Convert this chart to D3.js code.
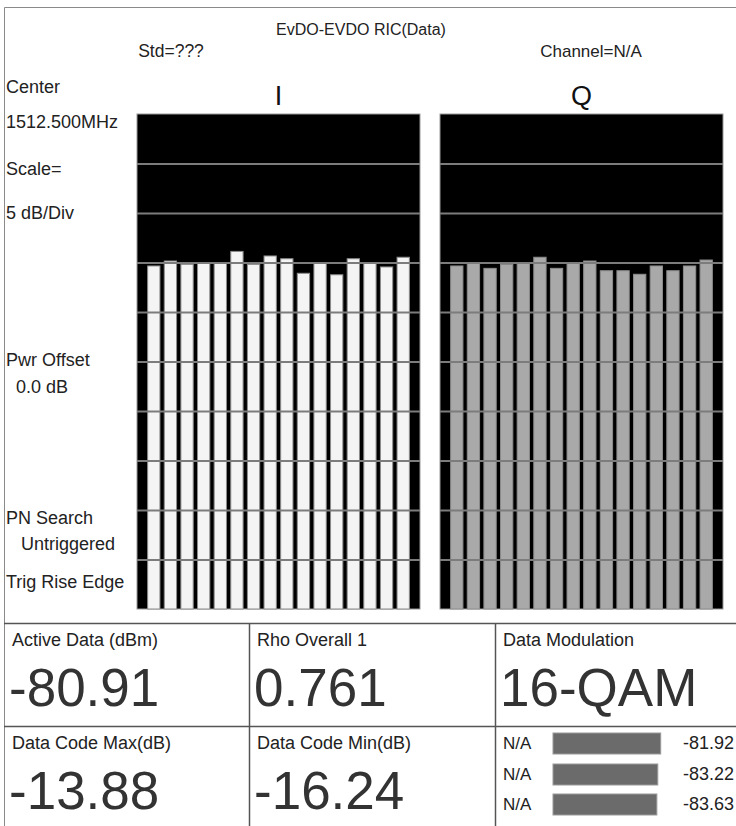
<!DOCTYPE html>
<html>
<head>
<meta charset="utf-8">
<script src="https://cdn.jsdelivr.net/npm/d3@7"></script>
<style>
  body { margin: 0; background: #fff; }
  svg { display: block; font-family: "Liberation Sans", Arial, sans-serif; }
</style>
</head>
<body>
<div id="chart"></div>
<script>
// Code channel powers (dB)
var codes = ["0","1","2","3","4","5","6","7","8","9","10","11","12","13","14","15"];
var iValues = [-15.35, -14.85, -15.18, -15.02, -15.02, -13.88, -15.18, -14.34,
               -14.62, -16.09, -15.02, -16.24, -14.62, -15.02, -15.45, -14.47];
var qValues = [-15.35, -15.02, -15.59, -15.18, -15.02, -14.47, -15.59, -15.02,
               -14.85, -15.83, -15.83, -16.19, -15.35, -15.83, -15.35, -14.75];
var gridTicks = [-45, -40, -35, -30, -25, -20, -15, -10, -5];

// Side labels and table cells
var sideLabels = ["Center", "1512.500MHz", "Scale=", "5 dB/Div", "Pwr Offset", "  0.0 dB",
                  "PN Search", "   Untriggered", "Trig Rise Edge"];
var cellTitles = ["Active Data (dBm)", "Rho Overall 1", "Data Modulation",
                  "Data Code Max(dB)", "Data Code Min(dB)"];
var cellValues = ["-80.91", "0.761", "16-QAM", "-13.88", "-16.24"];
var naNames  = ["N/A", "N/A", "N/A"];
var naValues = [-81.92, -83.22, -83.63];

var W = 736, H = 826;
var svg = d3.select("#chart").append("svg")
	.attr("width", W)
	.attr("height", H);

// outer frame
svg.append("path")
	.attr("d", "M4.5,826 V7.5 H736")
	.attr("fill", "none")
	.attr("stroke", "#8a8a8a");

// header
svg.append("text").attr("x", 361).attr("y", 35)
	.attr("text-anchor", "middle").style("font-size", "16px").attr("fill", "#222")
	.text("EvDO-EVDO RIC(Data)");
svg.append("text").attr("x", 171).attr("y", 57)
	.attr("text-anchor", "middle").style("font-size", "17.5px").attr("fill", "#222")
	.text("Std=???");
svg.append("text").attr("x", 591).attr("y", 57)
	.attr("text-anchor", "middle").style("font-size", "17px").attr("fill", "#222")
	.text("Channel=N/A");

// side labels
var sideY = [93, 128, 175, 219, 366, 393, 524, 550, 588];
svg.selectAll(".side").data(sideLabels).enter().append("text")
	.attr("class", "side")
	.attr("x", 6)
	.attr("y", function(d, i) { return sideY[i]; })
	.attr("xml:space", "preserve")
	.style("white-space", "pre")
	.style("font-size", "18px")
	.attr("fill", "#222")
	.text(function(d) { return d; });

// bar panels
var panelTop = 114, panelBottom = 609;
var y = d3.scaleLinear().domain([-50, 0]).range([panelBottom, panelTop]);

var panels = [
	{ name: "I", x0: 137, x1: 420, values: iValues, fill: "#f4f4f4" },
	{ name: "Q", x0: 440, x1: 723, values: qValues, fill: "#a9a9a9" }
];

panels.forEach(function(p) {
	var x = d3.scaleBand()
		.domain(codes)
		.range([p.x0, p.x1])
		.paddingInner(0.26)
		.paddingOuter(0.64);

	var g = svg.append("g");

	g.append("text")
		.attr("x", (p.x0 + p.x1) / 2)
		.attr("y", 105)
		.attr("text-anchor", "middle")
		.style("font-size", "27px")
		.attr("fill", "#111")
		.text(p.name);

	g.append("rect")
		.attr("x", p.x0)
		.attr("y", panelTop)
		.attr("width", p.x1 - p.x0)
		.attr("height", panelBottom - panelTop)
		.attr("fill", "#000")
		.attr("stroke", "#999")
		.attr("stroke-width", 1);

	g.selectAll(".bar").data(p.values).enter().append("rect")
		.attr("class", "bar")
		.attr("x", function(d, i) { return x(codes[i]); })
		.attr("width", x.bandwidth())
		.attr("y", function(d) { return y(d); })
		.attr("height", function(d) { return panelBottom - y(d); })
		.attr("fill", p.fill)
		.attr("stroke", "#8c8c8c")
		.attr("stroke-width", 1);

	// grid lines over the bars
	var grid = g.append("g")
		.attr("transform", "translate(" + p.x0 + ",0)")
		.call(d3.axisLeft(y).tickValues(gridTicks).tickSize(-(p.x1 - p.x0)).tickFormat(""));
	grid.select(".domain").remove();
	grid.selectAll("line").attr("stroke", "#7c7c7c").attr("stroke-width", 2);
});

// results table
var tableTop = 623, rowMid = 726;
var lineColor = "#555";
svg.append("line").attr("x1", 4).attr("x2", W).attr("y1", tableTop + 0.5).attr("y2", tableTop + 0.5)
	.attr("stroke", lineColor).attr("stroke-width", 1.5);
svg.append("line").attr("x1", 4).attr("x2", W).attr("y1", rowMid + 0.5).attr("y2", rowMid + 0.5)
	.attr("stroke", lineColor).attr("stroke-width", 1.5);
[249, 495].forEach(function(cx) {
	svg.append("line").attr("x1", cx + 0.5).attr("x2", cx + 0.5).attr("y1", tableTop).attr("y2", H)
		.attr("stroke", lineColor).attr("stroke-width", 1.5);
});

// cell text origins
var cellPos = [
	{ x: 12, y: tableTop }, { x: 257, y: tableTop }, { x: 503, y: tableTop },
	{ x: 12, y: rowMid },   { x: 257, y: rowMid }
];
cellTitles.forEach(function(t, i) {
	svg.append("text")
		.attr("x", cellPos[i].x)
		.attr("y", cellPos[i].y + 23)
		.style("font-size", "18px")
		.attr("fill", "#222")
		.text(t);
	svg.append("text")
		.attr("x", cellPos[i].x - 3)
		.attr("y", cellPos[i].y + 83)
		.style("font-size", "53px")
		.attr("fill", "#333")
		.text(cellValues[i]);
});

// N/A power bars
var naX = d3.scaleLinear().domain([-130, -80]).range([0, 112]);
var naRowY = [733, 764, 794];
naValues.forEach(function(v, i) {
	svg.append("text")
		.attr("x", 503).attr("y", naRowY[i] + 16)
		.style("font-size", "17px").attr("fill", "#222")
		.text(naNames[i]);
	svg.append("rect")
		.attr("x", 553).attr("y", naRowY[i])
		.attr("width", naX(v)).attr("height", 21)
		.attr("fill", "#6b6b6b")
		.attr("stroke", "#9a9a9a");
	svg.append("text")
		.attr("x", 734).attr("y", naRowY[i] + 16)
		.attr("text-anchor", "end")
		.style("font-size", "18px").attr("fill", "#222")
		.text(v.toFixed(2));
});
</script>
</body>
</html>
